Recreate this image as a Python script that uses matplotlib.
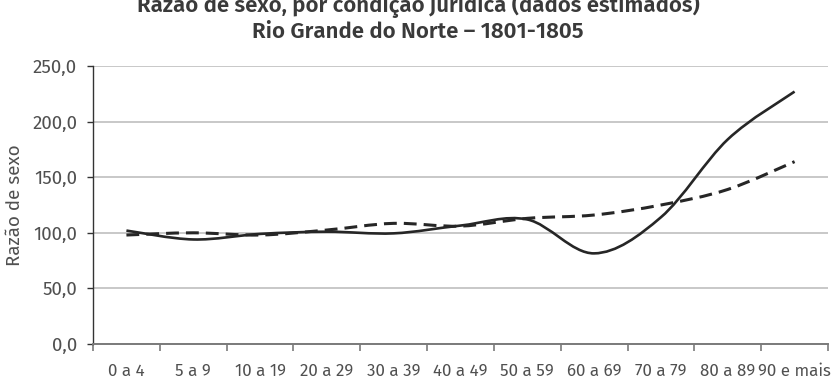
import matplotlib
matplotlib.use("Agg")
import matplotlib.pyplot as plt
from matplotlib import font_manager
from matplotlib.path import Path
from matplotlib.patches import PathPatch
import numpy as np

categories = ["0 a 4", "5 a 9", "10 a 19", "20 a 29", "30 a 39", "40 a 49",
              "50 a 59", "60 a 69", "70 a 79", "80 a 89", "90 e mais"]
solid_values = [102, 94, 99, 101, 99.5, 106.5, 112, 81.5, 114, 184, 227]
dashed_values = [98, 100, 98, 102.5, 108.5, 106, 113, 116, 125, 139, 164]
y_ticks = [0, 50, 100, 150, 200, 250]

available = {f.name for f in font_manager.fontManager.ttflist}
font = "Lato"
for name in ["Fira Sans", "Fira Sans Condensed", "Liberation Sans Narrow", "Lato"]:
    if name in available:
        font = name
        break
plt.rcParams["font.family"] = [font, "DejaVu Sans"]

TEXT = "#505050"
LINE = "#262626"


def smooth_path(xs, ys):
    # Excel-like smoothed line: cubic Bezier segments through every point
    pts = np.column_stack([xs, ys]).astype(float)
    ext = np.vstack([pts[0], pts, pts[-1]])
    verts = [tuple(pts[0])]
    codes = [Path.MOVETO]
    for i in range(1, len(ext) - 2):
        p0, p1, p2, p3 = ext[i - 1], ext[i], ext[i + 1], ext[i + 2]
        c1 = p1 + (p2 - p0) / 6
        c2 = p2 - (p3 - p1) / 6
        verts += [tuple(c1), tuple(c2), tuple(p2)]
        codes += [Path.CURVE4] * 3
    return Path(verts, codes)


fig = plt.figure(figsize=(8.33, 3.83), dpi=100)
ax = fig.add_axes([93 / 833, 1 - 344 / 383, (828 - 93) / 833, (344 - 66) / 383])

x = np.arange(len(categories))
ax.add_patch(PathPatch(smooth_path(x, solid_values), fill=False,
                       edgecolor=LINE, linewidth=1.9, capstyle="butt", zorder=3))
ax.add_patch(PathPatch(smooth_path(x, dashed_values), fill=False,
                       edgecolor=LINE, linewidth=2.2, linestyle=(0, (4.2, 2.3)),
                       capstyle="butt", zorder=3))

ax.set_xlim(-0.5, len(categories) - 0.5)
ax.set_ylim(0, 250)
ax.set_yticks(y_ticks)
ax.set_yticklabels([f"{v:.1f}".replace(".", ",") for v in y_ticks])
ax.yaxis.grid(True, color="#c4c4c4", linewidth=1.3)
ax.set_axisbelow(True)

ax.set_xticks(np.arange(-0.5, len(categories), 1.0))
ax.set_xticklabels([])
ax.set_xticks(x, minor=True)
ax.set_xticklabels(categories, minor=True)
ax.tick_params(axis="x", which="major", length=5, width=1.2, color="#7a7a7a", direction="out")
ax.tick_params(axis="x", which="minor", length=0, pad=14, labelsize=12.2, labelcolor=TEXT)
ax.tick_params(axis="y", length=4.5, width=1, color="#333333", pad=7, labelsize=13.5, labelcolor=TEXT)

for side in ("top", "right"):
    ax.spines[side].set_visible(False)
ax.spines["left"].set_color("#333333")
ax.spines["left"].set_linewidth(1.0)
ax.spines["bottom"].set_color("#7a7a7a")
ax.spines["bottom"].set_linewidth(1.4)

ax.set_ylabel("Razão de sexo", fontsize=13.5, color=TEXT)
ax.yaxis.set_label_coords(-0.094, 0.5)

fig.text(0.502, 1 - 12 / 383, "Razão de sexo, por condição jurídica (dados estimados)",
         ha="center", va="baseline", fontsize=16, fontweight="semibold", color="#3a3a3a")
fig.text(0.502, 1 - 38 / 383, "Rio Grande do Norte – 1801-1805",
         ha="center", va="baseline", fontsize=16, fontweight="semibold", color="#3a3a3a")

fig.savefig("out.png", dpi=100)
